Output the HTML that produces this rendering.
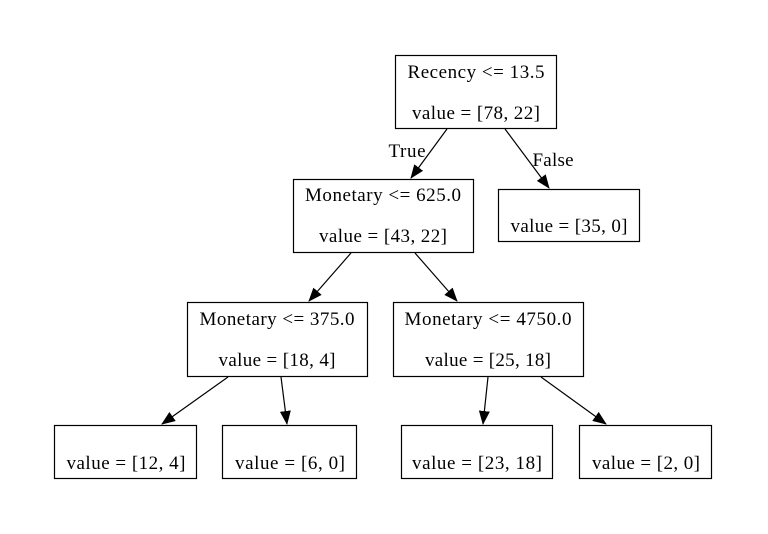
<!DOCTYPE html>
<html><head><meta charset="utf-8"><style>html,body{margin:0;padding:0;background:#fff}svg{display:block}</style></head>
<body>
<svg width="768" height="534" viewBox="0 0 768 534" xmlns="http://www.w3.org/2000/svg" font-family="Liberation Serif, serif" font-size="19" text-anchor="middle">
<defs><marker id="a" markerWidth="14" markerHeight="12" refX="13" refY="5.5" orient="auto" markerUnits="userSpaceOnUse" viewBox="0 0 14 11"><path d="M0,0L14,5.5L0,11z" fill="#000"/></marker></defs>
<g fill="none" stroke="#000" stroke-width="1.2">
<rect x="395.5" y="55.5" width="161" height="73"/>
<rect x="293.5" y="179.5" width="180" height="73"/>
<rect x="498.5" y="189.5" width="141" height="52"/>
<rect x="187.5" y="302.5" width="180" height="74"/>
<rect x="393.5" y="302.5" width="190" height="74"/>
<rect x="54.5" y="425.5" width="142" height="53"/>
<rect x="222.5" y="425.5" width="134" height="53"/>
<rect x="401.5" y="425.5" width="151" height="53"/>
<rect x="579.5" y="425.5" width="132" height="53"/>
</g>
<g stroke="#000" stroke-width="1.2" marker-end="url(#a)">
<line x1="447" y1="129" x2="411" y2="178"/>
<line x1="505" y1="129" x2="549" y2="188"/>
<line x1="351" y1="253" x2="309" y2="301"/>
<line x1="415" y1="253" x2="457" y2="301"/>
<line x1="228" y1="377" x2="162" y2="424"/>
<line x1="281" y1="377" x2="287" y2="424"/>
<line x1="488" y1="377" x2="483" y2="424"/>
<line x1="541" y1="377" x2="606" y2="424"/>
</g>
<g fill="#000" lengthAdjust="spacingAndGlyphs">
<text x="476" y="78" textLength="137">Recency &lt;= 13.5</text>
<text x="476" y="119" textLength="128">value = [78, 22]</text>
<text x="407" y="157" textLength="37">True</text>
<text x="553" y="166" textLength="41">False</text>
<text x="383" y="201" textLength="156">Monetary &lt;= 625.0</text>
<text x="383" y="242" textLength="128">value = [43, 22]</text>
<text x="569" y="232" textLength="117">value = [35, 0]</text>
<text x="277" y="325" textLength="155">Monetary &lt;= 375.0</text>
<text x="277" y="366" textLength="117">value = [18, 4]</text>
<text x="488" y="325" textLength="167">Monetary &lt;= 4750.0</text>
<text x="488" y="366" textLength="126">value = [25, 18]</text>
<text x="126" y="469" textLength="119">value = [12, 4]</text>
<text x="290" y="469" textLength="110">value = [6, 0]</text>
<text x="477" y="469" textLength="130">value = [23, 18]</text>
<text x="646" y="469" textLength="108">value = [2, 0]</text>
</g>
</svg>
</body></html>
